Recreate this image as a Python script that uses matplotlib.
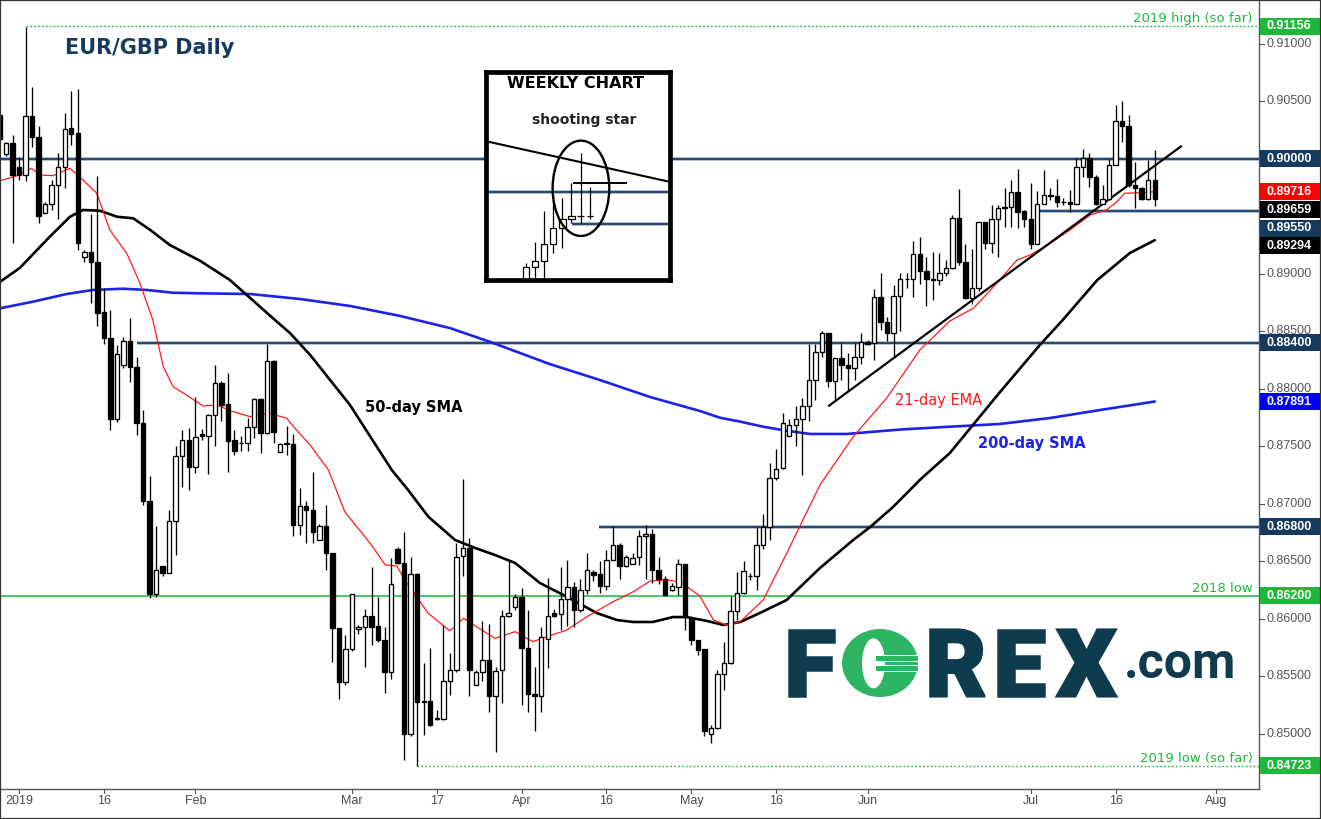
import numpy as np
import matplotlib
matplotlib.use("Agg")
import matplotlib.pyplot as plt
import matplotlib.patheffects as pe
from matplotlib.patches import Rectangle, Ellipse
from matplotlib.lines import Line2D
from matplotlib.transforms import blended_transform_factory

# ---------------------------------------------------------------------------
# EUR/GBP daily candles, Fri 28 Dec 2018 .. Tue 23 Jul 2019 (Sunday sessions
# included, six bars a week).  Quotes in units of 0.0001.
# ---------------------------------------------------------------------------
OPEN_PIPS = [9038,
    9004, 9014, 8993, 8986, 9037, 9019,
    8953, 8961, 8977, 8993, 9027, 9023,
    8915, 8919, 8910, 8867, 8844, 8774,
    8821, 8842, 8819, 8770, 8703, 8622,
    8646, 8640, 8685, 8742, 8756, 8732,
    8761, 8759, 8777, 8805, 8787, 8756,
    8753, 8753, 8767, 8791, 8762, 8824,
    8745, 8753, 8752, 8682, 8698, 8695,
    8669, 8681, 8657, 8592, 8545, 8574,
    8591, 8593, 8603, 8594, 8582, 8554,
    8661, 8649, 8500, 8639, 8529, 8529,
    8514, 8513, 8546, 8556, 8655, 8662,
    8543, 8554, 8564, 8533, 8556, 8603,
    8610, 8619, 8575, 8535, 8533, 8583,
    8605, 8604, 8617, 8628, 8608, 8625,
    8641, 8639, 8629, 8651, 8664, 8646,
    8648, 8654, 8672, 8674, 8643, 8635,
    8625, 8628, 8648, 8601, 8582, 8574,
    8500, 8505, 8552, 8562, 8607, 8623,
    8637, 8637, 8664, 8680, 8723, 8731,
    8759, 8769, 8774, 8785, 8808, 8832,
    8849, 8807, 8827, 8821, 8818, 8828,
    8841, 8840, 8880, 8858, 8849, 8881,
    8896, 8896, 8917, 8903, 8896, 8895,
    8901, 8905, 8949, 8910, 8879, 8888,
    8945, 8927, 8948, 8958, 8958, 8971,
    8955, 8948, 8926, 8961, 8969, 8968,
    8963, 8963, 8961, 8993, 9001, 8984,
    8961, 8965, 8995, 9033, 9029, 8977,
    8975, 8965, 8982]

HIGH_PIPS = [9042,
    9015, 9021, 9002, 9115, 9063, 9029,
    8963, 8982, 9005, 9040, 9059, 9061,
    8921, 8952, 8985, 8888, 8869, 8838,
    8845, 8862, 8828, 8782, 8724, 8681,
    8646, 8695, 8750, 8764, 8766, 8793,
    8765, 8778, 8821, 8807, 8814, 8764,
    8759, 8775, 8792, 8792, 8839, 8825,
    8753, 8768, 8761, 8714, 8703, 8728,
    8683, 8699, 8657, 8592, 8586, 8622,
    8595, 8609, 8645, 8619, 8593, 8653,
    8663, 8676, 8654, 8640, 8562, 8575,
    8521, 8595, 8570, 8666, 8722, 8670,
    8556, 8598, 8596, 8558, 8608, 8650,
    8622, 8627, 8608, 8558, 8593, 8636,
    8609, 8645, 8651, 8632, 8635, 8657,
    8643, 8650, 8660, 8681, 8666, 8656,
    8657, 8677, 8682, 8678, 8654, 8637,
    8631, 8652, 8648, 8601, 8582, 8574,
    8508, 8556, 8580, 8620, 8641, 8650,
    8640, 8680, 8691, 8736, 8748, 8779,
    8774, 8785, 8792, 8839, 8839, 8850,
    8849, 8827, 8840, 8831, 8840, 8849,
    8843, 8887, 8901, 8863, 8890, 8901,
    8901, 8929, 8932, 8915, 8919, 8918,
    8912, 8951, 8974, 8926, 8922, 8945,
    8945, 8960, 8960, 8975, 8982, 8991,
    8956, 8979, 8972, 8990, 8975, 8983,
    8966, 8973, 9001, 9009, 9005, 8986,
    8977, 9000, 9047, 9050, 9038, 8997,
    8976, 8999, 9008]

LOW_PIPS = [9012,
    9003, 8927, 8982, 8981, 9010, 8944,
    8953, 8956, 8948, 8975, 9012, 8921,
    8910, 8875, 8855, 8839, 8764, 8771,
    8818, 8806, 8760, 8699, 8618, 8619,
    8637, 8640, 8656, 8715, 8712, 8727,
    8756, 8726, 8750, 8772, 8728, 8743,
    8746, 8746, 8757, 8744, 8761, 8753,
    8745, 8743, 8672, 8673, 8666, 8666,
    8669, 8643, 8563, 8530, 8543, 8572,
    8587, 8558, 8577, 8580, 8536, 8548,
    8648, 8477, 8498, 8472, 8499, 8507,
    8512, 8512, 8534, 8554, 8637, 8533,
    8543, 8546, 8519, 8484, 8527, 8602,
    8608, 8525, 8519, 8503, 8519, 8557,
    8602, 8590, 8594, 8593, 8606, 8622,
    8633, 8623, 8625, 8651, 8635, 8645,
    8648, 8647, 8635, 8631, 8630, 8620,
    8624, 8621, 8590, 8577, 8569, 8498,
    8492, 8504, 8538, 8561, 8599, 8622,
    8634, 8625, 8661, 8669, 8721, 8730,
    8759, 8750, 8725, 8772, 8790, 8828,
    8802, 8790, 8808, 8798, 8808, 8822,
    8838, 8825, 8851, 8842, 8829, 8850,
    8888, 8880, 8891, 8872, 8877, 8890,
    8898, 8904, 8908, 8878, 8874, 8885,
    8922, 8918, 8915, 8941, 8941, 8940,
    8941, 8922, 8926, 8961, 8964, 8958,
    8960, 8954, 8961, 8984, 8976, 8960,
    8961, 8964, 8995, 9015, 8976, 8957,
    8964, 8964, 8959]

CLOSE_PIPS = [9017,
    9014, 8986, 8986, 9037, 9019, 8950,
    8961, 8977, 8993, 9026, 9022, 8927,
    8919, 8910, 8866, 8844, 8774, 8830,
    8842, 8819, 8770, 8703, 8622, 8643,
    8640, 8685, 8742, 8756, 8732, 8758,
    8759, 8777, 8805, 8786, 8755, 8746,
    8753, 8767, 8791, 8762, 8824, 8763,
    8752, 8752, 8682, 8698, 8695, 8676,
    8681, 8657, 8592, 8545, 8574, 8622,
    8593, 8603, 8593, 8582, 8554, 8630,
    8649, 8500, 8639, 8528, 8528, 8508,
    8513, 8546, 8556, 8654, 8662, 8556,
    8554, 8564, 8533, 8555, 8603, 8605,
    8619, 8575, 8535, 8533, 8584, 8603,
    8603, 8617, 8628, 8608, 8625, 8643,
    8638, 8629, 8651, 8664, 8646, 8654,
    8653, 8672, 8674, 8643, 8635, 8621,
    8629, 8648, 8602, 8582, 8573, 8503,
    8505, 8552, 8562, 8607, 8623, 8642,
    8637, 8664, 8680, 8723, 8730, 8770,
    8769, 8774, 8785, 8808, 8832, 8849,
    8807, 8827, 8821, 8818, 8828, 8841,
    8839, 8880, 8858, 8849, 8881, 8896,
    8896, 8917, 8903, 8896, 8895, 8901,
    8905, 8949, 8910, 8879, 8888, 8945,
    8927, 8948, 8957, 8957, 8971, 8954,
    8948, 8926, 8961, 8969, 8968, 8963,
    8963, 8961, 8993, 9001, 8984, 8961,
    8965, 8995, 9033, 9029, 8977, 8975,
    8965, 8982, 8965]

FIRST_BAR = -1          # bar index of 28 Dec 2018 (30 Dec 2018 is bar 0)

# Moving averages (bar index, price)
SMA50_BAR = [-0.9, 2.1, 6.7, 9.8, 11.8, 14.4, 17.0, 19.5, 22.1, 25.1, 29.7, 34.3,
             41.2, 43.5, 46.6, 52.7, 59.1, 61.6, 64.7, 68.8, 71.9, 74.9, 78.0,
             81.8, 86.0, 90.5, 93.6, 96.1, 99.1, 102.2, 104.3, 107.4, 109.9,
             112.5, 115.5, 119.6, 124.7, 129.8, 132.4, 135.9, 140.0, 144.6,
             152.3, 158.4, 161.9, 167.2, 172.2, 176.0]
SMA50 = [0.88933, 0.89052, 0.89324, 0.89498, 0.89557, 0.89550, 0.89498, 0.89484,
         0.89383, 0.89252, 0.89116, 0.88948, 0.88600, 0.88487, 0.88296, 0.87861,
         0.87296, 0.87122, 0.86890, 0.86687, 0.86617, 0.86557, 0.86487, 0.86313,
         0.86191, 0.86052, 0.85991, 0.85974, 0.85974, 0.86017, 0.86017, 0.85983,
         0.85948, 0.85974, 0.86052, 0.86165, 0.86443, 0.86687, 0.86800, 0.86974,
         0.87209, 0.87443, 0.87974, 0.88383, 0.88600, 0.88948, 0.89183, 0.89294]

EMA21_BAR = [-0.9, 2.1, 3.9, 5.2, 7.2, 9.8, 11.8, 13.9, 15.9, 18.5, 20.5, 22.5,
             24.1, 25.6, 27.2, 30.2, 32.3, 34.8, 37.4, 40.4, 43.0, 44.5, 46.6,
             49.4, 51.9, 56.0, 58.1, 59.9, 61.1, 64.7, 68.0, 70.1, 72.1, 74.9,
             78.0, 80.7, 85.9, 89.0, 93.0, 96.1, 98.7, 101.2, 103.3, 106.3,
             108.4, 110.4, 112.5, 116.0, 119.6, 124.7, 129.8, 134.9, 140.0,
             144.6, 148.2, 151.8, 154.9, 156.9, 160.0, 163.0, 166.1, 168.6,
             170.2, 171.4, 174.2, 176.0]
EMA21 = [0.89811, 0.89861, 0.89919, 0.89861, 0.89855, 0.89919, 0.89817, 0.89702,
         0.89383, 0.89180, 0.88922, 0.88600, 0.88194, 0.88020, 0.87963, 0.87852,
         0.87861, 0.87803, 0.87759, 0.87789, 0.87745, 0.87643, 0.87513, 0.87296,
         0.86933, 0.86643, 0.86470, 0.86461, 0.86339, 0.86049, 0.85896, 0.86006,
         0.85933, 0.85832, 0.85890, 0.85803, 0.85904, 0.86020, 0.86150, 0.86237,
         0.86330, 0.86339, 0.86324, 0.86200, 0.85991, 0.85948, 0.85977, 0.86165,
         0.86571, 0.87165, 0.87585, 0.87919, 0.88339, 0.88591, 0.88702, 0.88919,
         0.89122, 0.89165, 0.89267, 0.89383, 0.89513, 0.89557, 0.89629, 0.89702,
         0.89707, 0.89716]

SMA200_BAR = [-0.9, 4.1, 9.3, 13.3, 17.9, 21.6, 25.6, 29.7, 37.4, 45.0, 52.7, 60.4,
              68.0, 74.2, 83.3, 91.0, 98.7, 106.3, 109.4, 112.5, 116.0, 119.6,
              123.2, 128.8, 132.4, 137.4, 144.6, 152.3, 160.0, 167.6, 176.0]
SMA200 = [0.88702, 0.88759, 0.88826, 0.88861, 0.88872, 0.88861, 0.88837, 0.88832,
          0.88826, 0.88783, 0.88722, 0.88635, 0.88530, 0.88409, 0.88217, 0.88078,
          0.87930, 0.87809, 0.87750, 0.87716, 0.87672, 0.87637, 0.87609, 0.87609,
          0.87626, 0.87649, 0.87672, 0.87696, 0.87748, 0.87817, 0.87891]

# Key levels: price and the bar where each line starts
NAVY_LEVELS = [0.90000, 0.88400, 0.86800, 0.89550]
NAVY_START = [-1.0, 20.1, 90.9, 158.4]
LOW_2018 = 0.86200
HIGH_2019, HIGH_2019_BAR = 0.91156, 3
LOW_2019, LOW_2019_BAR = 0.84723, 63

# Rising trend line (bar, price)
TREND_BAR = [126.1, 180.0]
TREND_PX = [0.87855, 0.90109]

# Price tags on the right scale: text, value, colour, vertical nudge in pixels
TAGS = [("0.91156", 0.91156, "#1db83a", 0),
        ("0.90000", 0.90000, "#143a5e", 0),
        ("0.89716", 0.89716, "#ff0000", 0),
        ("0.89659", 0.89659, "#000000", 11.4),
        ("0.89550", 0.89550, "#143a5e", 17.3),
        ("0.89294", 0.89294, "#000000", 5.5),
        ("0.88400", 0.88400, "#143a5e", 0),
        ("0.87891", 0.87891, "#0000ff", 0),
        ("0.86800", 0.86800, "#143a5e", 0),
        ("0.86200", 0.86200, "#1db83a", 0),
        ("0.84723", 0.84723, "#1db83a", 0)]

# scale labels (0.895 and 0.900 sit under price tags, so only their ticks show)
PRICE_TICKS = [0.850, 0.855, 0.860, 0.865, 0.870, 0.875, 0.880, 0.885,
               0.890, 0.895, 0.900, 0.905, 0.910]
HIDDEN_TICK_LABELS = [0.895, 0.900]
DATE_TICK_BAR = [2, 15, 29, 53, 66, 79, 92, 105, 118, 132, 157, 170, 185.4]
DATE_TICK_TXT = ["2019", "16", "Feb", "Mar", "17", "Apr", "16", "May", "16",
                 "Jun", "Jul", "16", "Aug"]

# Weekly inset: candles (week index, price) and its reference lines
WK_OPEN = [0.88750, 0.88956, 0.89043, 0.89274, 0.89495, 0.89627, 0.89665, 0.89665]
WK_HIGH = [0.89012, 0.89310, 0.89738, 0.89862, 0.89909, 0.90116, 0.90530, 0.90069]
WK_LOW = [0.88600, 0.88600, 0.88600, 0.89158, 0.89219, 0.89564, 0.89572, 0.89619]
WK_CLOSE = [0.88956, 0.89043, 0.89274, 0.89495, 0.89627, 0.89665, 0.89665, 0.89665]
WK_TREND_X = [-4.14, 15.75]
WK_TREND_Y = [0.90690, 0.90138]

# ---------------------------------------------------------------------------
W, H = 1321, 819
fig = plt.figure(figsize=(W / 100, H / 100), dpi=100)
fig.patch.set_facecolor("white")

PLOT_RIGHT, PLOT_BOTTOM = 1259, 789
ax = fig.add_axes([0, 1 - PLOT_BOTTOM / H, PLOT_RIGHT / W, PLOT_BOTTOM / H])
ax.set_xlim(-0.92, 191.97)
ax.set_ylim(0.845217, 0.913826)
ax.set_xticks([])
ax.set_yticks([])
for side in ("top", "left"):
    ax.spines[side].set_visible(False)
for side in ("right", "bottom"):
    ax.spines[side].set_color("#555555")
    ax.spines[side].set_linewidth(1.0)

NAVY = "#1d3f63"
GREEN = "#1db83a"
XMAX = 200

# key levels
for lvl, x0 in zip(NAVY_LEVELS, NAVY_START):
    ax.hlines(lvl, x0, XMAX, color="#9fb2c6", lw=2.6, zorder=1.4)
    ax.hlines(lvl, x0, XMAX, color=NAVY, lw=1.3, zorder=1.5)
ax.hlines(LOW_2018, -1, XMAX, color=GREEN, lw=1.1, zorder=1.5)
ax.hlines(HIGH_2019, HIGH_2019_BAR, XMAX, color=GREEN, lw=1.0,
          linestyles=(0, (1.2, 1.6)), zorder=1.5)
ax.hlines(LOW_2019, LOW_2019_BAR, XMAX, color=GREEN, lw=1.0,
          linestyles=(0, (1.2, 1.6)), zorder=1.5)

# moving averages
ax.plot(SMA200_BAR, SMA200, color="#1c22e6", lw=1.9, zorder=2,
        solid_joinstyle="round", solid_capstyle="round")
ax.plot(SMA50_BAR, SMA50, color="black", lw=1.9, zorder=2,
        solid_joinstyle="round", solid_capstyle="round")
ax.plot(EMA21_BAR, EMA21, color="#ff1a1a", lw=0.9, zorder=2.1)

# trend line
ax.plot(TREND_BAR, TREND_PX, color="black", lw=1.6, zorder=2.6)

# candles
o = np.array(OPEN_PIPS) / 1e4
h = np.array(HIGH_PIPS) / 1e4
l = np.array(LOW_PIPS) / 1e4
c = np.array(CLOSE_PIPS) / 1e4
x = np.arange(len(o)) + FIRST_BAR
up = c >= o
ax.vlines(x, l, h, color="black", lw=0.95, zorder=3)
body_lo = np.minimum(o, c)
body_h = np.abs(c - o)
ax.bar(x[up], body_h[up], bottom=body_lo[up], width=0.68, color="white",
       edgecolor="black", linewidth=0.95, zorder=4)
ax.bar(x[~up], body_h[~up], bottom=body_lo[~up], width=0.68, color="black",
       edgecolor="black", linewidth=0.95, zorder=4)

# annotations on the chart
ax.text(62.4, 0.87835, "50-day SMA", color="black", fontsize=10.5,
        fontweight="bold", ha="center", va="center", zorder=5)
ax.text(142.8, 0.87904, "21-day EMA", color="#ff1a1a", fontsize=10.5,
        ha="center", va="center", zorder=5)
ax.text(157.2, 0.87530, "200-day SMA", color="#1c22e6", fontsize=10.5,
        fontweight="bold", ha="center", va="center", zorder=5)
ax.text(191.0, 0.91226, "2019 high (so far)", color=GREEN, fontsize=9.5,
        ha="right", va="center", zorder=5)
ax.text(191.0, 0.86261, "2018 low", color=GREEN, fontsize=9.5,
        ha="right", va="center", zorder=5)
ax.text(191.0, 0.84783, "2019 low (so far)", color=GREEN, fontsize=9.5,
        ha="right", va="center", zorder=5)

# right price scale
tr_r = blended_transform_factory(ax.transAxes, ax.transData)
lab_x = 1289 / PLOT_RIGHT
for p in PRICE_TICKS:
    if not any(abs(p - q) < 1e-9 for q in HIDDEN_TICK_LABELS):
        ax.text(lab_x, p, f"{p:.5f}", transform=tr_r, ha="center", va="center",
                fontsize=9, family="Liberation Sans", color="#555555",
                clip_on=False, zorder=6)
    ax.add_line(Line2D([1.0, 1264 / PLOT_RIGHT], [p, p], transform=tr_r,
                       color="#555555", lw=0.8, clip_on=False))

PX_PER_PRICE = 11500.0
tag_h = 17 / PX_PER_PRICE
for txt, val, col, nudge in TAGS:
    yc = val - nudge / PX_PER_PRICE
    ax.add_patch(Rectangle((1.0 + 1 / PLOT_RIGHT, yc - tag_h / 2),
                           60 / PLOT_RIGHT, tag_h, transform=tr_r,
                           facecolor=col, edgecolor="none", clip_on=False,
                           zorder=7))
    ax.text(lab_x, yc, txt, transform=tr_r, ha="center", va="center",
            fontsize=9, family="Liberation Sans", fontweight="bold",
            color="white", clip_on=False, zorder=8)

# bottom time scale
tr_b = blended_transform_factory(ax.transData, ax.transAxes)
for b, t in zip(DATE_TICK_BAR, DATE_TICK_TXT):
    ax.add_line(Line2D([b, b], [0, -4 / PLOT_BOTTOM], transform=tr_b,
                       color="#555555", lw=0.8, clip_on=False))
    ax.text(b, -12 / PLOT_BOTTOM, t, transform=tr_b, ha="center", va="center",
            fontsize=9, family="Liberation Sans", color="#4a4a4a",
            clip_on=False)

# title
fig.text(65 / W, 1 - 48 / H, "EUR/GBP Daily", fontsize=15, fontweight="bold",
         color="#16395e", ha="left", va="center")

# ---------------------------------------------------------------------------
# weekly inset
L, R, T, B = 485.6, 670.4, 71.6, 280.4
ins = fig.add_axes([L / W, 1 - B / H, (R - L) / W, (B - T) / H], zorder=10)
ins.set_facecolor("white")
ins.set_xlim(-4.44, 15.87)
ins.set_ylim(0.88776, 0.91658)
ins.set_xticks([])
ins.set_yticks([])
for s in ins.spines.values():
    s.set_linewidth(3.4)
    s.set_color("black")
    s.set_zorder(10)

ins.hlines(0.90000, -5, 20, color="#9fb2c6", lw=2.6)
ins.hlines(0.90000, -5, 20, color=NAVY, lw=1.3)
ins.hlines(0.89550, 5.02, 20, color="#9fb2c6", lw=2.6)
ins.hlines(0.89550, 5.02, 20, color=NAVY, lw=1.3)
ins.plot(WK_TREND_X, WK_TREND_Y, color="black", lw=1.5)
ins.hlines(WK_HIGH[5], 5.13, 11.07, color="black", lw=1.4)

wo, wh = np.array(WK_OPEN), np.array(WK_HIGH)
wl, wc = np.array(WK_LOW), np.array(WK_CLOSE)
wx = np.arange(len(wo))
ins.vlines(wx, wl, wh, color="black", lw=0.9, zorder=3)
ins.bar(wx, np.abs(wc - wo), bottom=np.minimum(wo, wc), width=0.7,
        color="white", edgecolor="black", linewidth=0.9, zorder=4)
ins.add_patch(Ellipse((6.04, 0.90047), 6.23, 0.01316, fill=False,
                      edgecolor="black", lw=1.7, zorder=5))
ins.text(0.488, 0.9435, "WEEKLY CHART", transform=ins.transAxes, fontsize=11.5,
         fontweight="bold", ha="center", va="center", color="black")
ins.text(0.532, 0.768, "shooting star", transform=ins.transAxes, fontsize=10,
         fontweight="bold", ha="center", va="center", color="#222222")

# ---------------------------------------------------------------------------
# FOREX.com logo
DARK, LGREEN = "#0f3b4f", "#2db563"


def fx(px):
    return px / W


def fy(py):
    return 1 - py / H


heavy = [pe.withStroke(linewidth=1.8, foreground=DARK, joinstyle="miter")]
for letter, cx in (("F", 809.5), ("R", 956.0), ("E", 1019.0), ("X", 1086.5)):
    fig.text(fx(cx), fy(696.3), letter, fontsize=67.5, fontweight="black",
             family="Roboto", color=DARK, ha="center", va="baseline",
             path_effects=heavy)
fig.add_artist(Ellipse((fx(880), fy(663)), 76 / W, 68 / H,
                       transform=fig.transFigure, facecolor=LGREEN,
                       edgecolor="none"))
fig.add_artist(Ellipse((fx(873.5), fy(663.3)), 23 / W, 50 / H,
                       transform=fig.transFigure, facecolor="white",
                       edgecolor="none"))
for top in (655, 665):
    fig.add_artist(Rectangle((fx(876), fy(top + 7)), 43 / W, 7 / H,
                             transform=fig.transFigure, facecolor="white",
                             edgecolor="none"))
    fig.add_artist(Rectangle((fx(876), fy(top + 6)), 42 / W, 5 / H,
                             transform=fig.transFigure, facecolor=LGREEN,
                             edgecolor="none"))
fig.text(fx(1124), fy(678), ".com", fontsize=36, fontweight="bold",
         family="Roboto", color=DARK, ha="left", va="baseline")

# outer frame
fig.add_artist(Rectangle((0, 0), 1, 1, transform=fig.transFigure, fill=False,
                         edgecolor="#333333", lw=1.6))

fig.savefig("out.png", dpi=100)
